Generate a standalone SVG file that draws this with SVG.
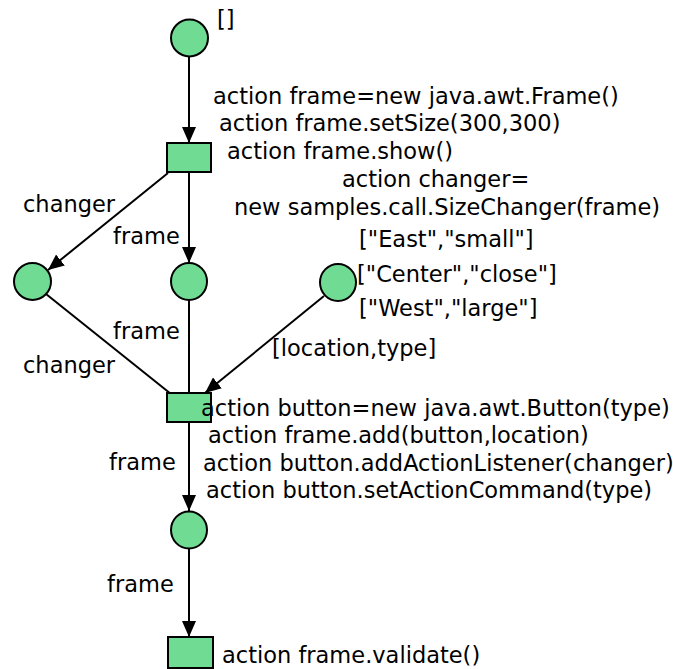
<svg xmlns="http://www.w3.org/2000/svg" width="673" height="669" viewBox="0 0 673 669">
<style>
.pl{fill:#70db93;stroke:#000;stroke-width:2}
.tr{fill:#70db93;stroke:#000;stroke-width:2}
.e{stroke:#000;stroke-width:2;fill:none}
text{font-family:"DejaVu Sans",sans-serif;font-size:22.5px;fill:#000}
</style>
<defs>
<marker id="ah" viewBox="0 0 16 14" refX="16" refY="7" markerWidth="16" markerHeight="14" markerUnits="userSpaceOnUse" orient="auto">
<path d="M0,0 L16,7 L0,14 Z" fill="#000"/>
</marker>
</defs>
<g id="edges">
<line class="e" x1="189" y1="57" x2="189" y2="143" marker-end="url(#ah)"/>
<line class="e" x1="168" y1="173" x2="48" y2="270" marker-end="url(#ah)"/>
<line class="e" x1="189" y1="173" x2="189" y2="263" marker-end="url(#ah)"/>
<line class="e" x1="46" y1="294" x2="171" y2="394"/>
<line class="e" x1="189" y1="300" x2="189" y2="393"/>
<line class="e" x1="324" y1="296" x2="205" y2="393" marker-end="url(#ah)"/>
<line class="e" x1="189" y1="423" x2="189" y2="511" marker-end="url(#ah)"/>
<line class="e" x1="189" y1="549" x2="189" y2="637" marker-end="url(#ah)"/>
<text x="23" y="212">changer</text>
<text x="113" y="244">frame</text>
<text x="113" y="339">frame</text>
<text x="23" y="373">changer</text>
<text x="272" y="356">[location,type]</text>
<text x="109" y="470">frame</text>
<text x="107" y="592">frame</text>
</g>
<g id="p0">
<ellipse class="pl" cx="189.5" cy="38" rx="18.5" ry="18.5"/>
<text x="217" y="27">[]</text>
</g>
<g id="t0">
<rect class="tr" x="167" y="143" width="44" height="29"/>
<text x="213" y="104">action frame=new java.awt.Frame()</text>
<text x="219" y="131">action frame.setSize(300,300)</text>
<text x="227" y="159">action frame.show()</text>
<text x="342" y="187">action changer=</text>
<text x="234" y="215">new samples.call.SizeChanger(frame)</text>
</g>
<g id="p1">
<ellipse class="pl" cx="32.5" cy="281.5" rx="18.5" ry="18.5"/>
</g>
<g id="p2">
<ellipse class="pl" cx="189" cy="281.5" rx="18" ry="18.5"/>
</g>
<g id="p3">
<ellipse class="pl" cx="338" cy="282.5" rx="18" ry="18.5"/>
<text x="359" y="247">["East","small"]</text>
<text x="357" y="282">["Center","close"]</text>
<text x="359" y="316">["West","large"]</text>
</g>
<g id="t1">
<rect class="tr" x="167" y="393" width="44" height="29"/>
<text x="201" y="416">action button=new java.awt.Button(type)</text>
<text x="208" y="443">action frame.add(button,location)</text>
<text x="203" y="471">action button.addActionListener(changer)</text>
<text x="206" y="498">action button.setActionCommand(type)</text>
</g>
<g id="p4">
<ellipse class="pl" cx="189" cy="530" rx="18" ry="18.5"/>
</g>
<g id="t2">
<rect class="tr" x="168" y="637" width="45" height="31"/>
<text x="222" y="663">action frame.validate()</text>
</g>
</svg>
